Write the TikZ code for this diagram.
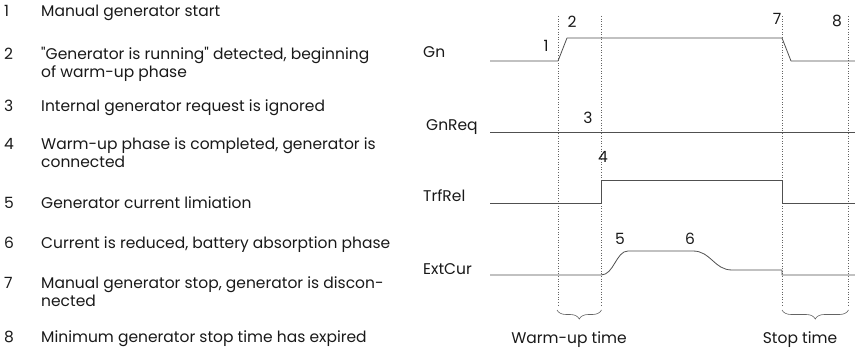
\documentclass[tikz,border=0pt]{standalone}
\usepackage{fontspec}
\setmainfont{Poppins}
\usetikzlibrary{decorations.pathreplacing}
\definecolor{txtgray}{RGB}{25,25,25}
\definecolor{siggray}{RGB}{80,80,80}
\definecolor{gridgray}{RGB}{100,100,100}

\begin{document}
\begin{tikzpicture}[
  x=1pt, y=-1pt,
  font=\fontsize{15.5}{18}\selectfont, text=txtgray,
  num/.style={anchor=base west, inner sep=0pt},
  item/.style={anchor=base west, inner sep=0pt},
  signame/.style={anchor=base west, inner sep=0pt},
  evt/.style={anchor=base, inner sep=0pt},
  wave/.style={siggray, line width=0.8pt, line join=round},
  tline/.style={gridgray, dotted, line width=0.6pt},
  span/.style={gridgray, line width=0.6pt, decorate, decoration={brace, mirror, amplitude=9pt}}
]
\useasboundingbox (0,0) rectangle (855,350);

% legend
\node[num]  at (4,17)   (n1)  {1};
\node[item] at (41,17)  (t1)  {Manual generator start};
\node[num]  at (4,60)   (n2)  {2};
\node[item] at (41,60)  (t2)  {\textquotedbl Generator is running\textquotedbl{} detected, beginning};
\node[item] at (41,78)  (t2b) {of warm-up phase};
\node[num]  at (4,112)  (n3)  {3};
\node[item] at (41,112) (t3)  {Internal generator request is ignored};
\node[num]  at (4,150)  (n4)  {4};
\node[item] at (41,150) (t4)  {Warm-up phase is completed, generator is};
\node[item] at (41,168) (t4b) {connected};
\node[num]  at (4,209)  (n5)  {5};
\node[item] at (41,209) (t5)  {Generator current limiation};
\node[num]  at (4,248)  (n6)  {6};
\node[item] at (41,248) (t6)  {Current is reduced, battery absorption phase};
\node[num]  at (4,288)  (n7)  {7};
\node[item] at (41,288) (t7)  {Manual generator stop, generator is discon-};
\node[item] at (41,306) (t7b) {nected};
\node[num]  at (4,342)  (n8)  {8};
\node[item] at (41,342) (t8)  {Minimum generator stop time has expired};

% signal names
\node[signame] at (423,58)  (gn)     {Gn};
\node[signame] at (426,131) (gnreq)  {GnReq};
\node[signame] at (423,202) (trfrel) {TrfRel};
\node[signame] at (423,274) (extcur) {ExtCur};

% time marks
\coordinate (ta) at (558,16);  \coordinate (ta') at (558,305);
\coordinate (tb) at (601,16);  \coordinate (tb') at (601,305);
\coordinate (tc) at (782,16);  \coordinate (tc') at (782,305);
\coordinate (td) at (848.5,16); \coordinate (td') at (848.5,305);
\draw[tline] (ta) -- (ta');
\draw[tline] (tb) -- (tb');
\draw[tline] (tc) -- (tc');
\draw[tline] (td) -- (td');

% waveforms
\draw[wave] (490,61) -- (558,61) -- (567,38) -- (782,38) -- (791,61) -- (855,61);
\draw[wave] (490,132) -- (855,132);
\draw[wave] (490,203) -- (601,203) -- (601,180) -- (782,180) -- (782,203) -- (855,203);
\draw[wave] (490,275) -- (601,275) .. controls (614,275) and (616,251) .. (628,251)
  -- (693,251) .. controls (711,251) and (714,270) .. (732,270)
  -- (782,270) -- (782,275) -- (855,275);

% event numbers
\node[evt] at (546,52)  (e1) {1};
\node[evt] at (572,28)  (e2) {2};
\node[evt] at (588,124) (e3) {3};
\node[evt] at (603,163) (e4) {4};
\node[evt] at (620,244) (e5) {5};
\node[evt] at (690,244) (e6) {6};
\node[evt] at (777,25)  (e7) {7};
\node[evt] at (837,27)  (e8) {8};

% durations
\draw[span] (557,310) -- (601.5,310);
\draw[span] (782,310) -- (848.5,310);
\node[evt] at (569,343) (warm) {Warm-up time};
\node[evt] at (800,343) (stop) {Stop time};
\end{tikzpicture}
\end{document}
